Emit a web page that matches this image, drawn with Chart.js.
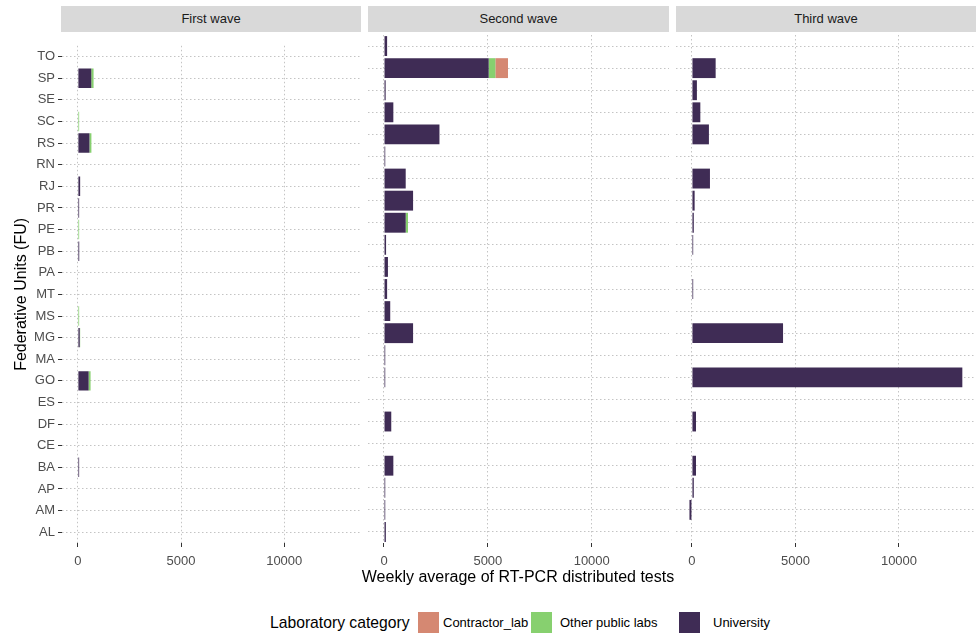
<!DOCTYPE html>
<html>
<head>
<meta charset="utf-8">
<script src="https://cdn.jsdelivr.net/npm/chart.js@4.4.0/dist/chart.umd.min.js"></script>
<style>
  body { margin: 0; width: 977px; height: 634px; background: #fff; position: relative; overflow: hidden;
         font-family: "Liberation Sans", Arial, sans-serif; }
  .strip { position: absolute; top: 6px; height: 26px; background: #D9D9D9; color: #1A1A1A;
           font-size: 13px; line-height: 26px; text-align: center; }
  .panel { position: absolute; top: 35px; height: 538px; }
  .xtitle { position: absolute; left: 318px; width: 400px; top: 568px; text-align: center; font-size: 16px; color: #000; }
  .legend { position: absolute; top: 612px; height: 22px; font-size: 13px; color: #000; }
  .key { position: absolute; top: 612px; width: 21px; height: 21px; }
</style>
</head>
<body>
<div class="strip" style="left:61px;width:300px">First wave</div>
<div class="strip" style="left:368px;width:301px">Second wave</div>
<div class="strip" style="left:676px;width:300px">Third wave</div>

<div class="panel" style="left:0;width:361px"><canvas id="wave1"></canvas></div>
<div class="panel" style="left:368px;width:301px"><canvas id="wave2"></canvas></div>
<div class="panel" style="left:676px;width:300px"><canvas id="wave3"></canvas></div>

<div class="xtitle">Weekly average of RT-PCR distributed tests</div>

<div class="legend" style="left:270px;font-size:15.7px;line-height:22px">Laboratory category</div>
<div class="key" style="left:418px;background:#D58872"></div>
<div class="legend" style="left:443px;line-height:22px">Contractor_lab</div>
<div class="key" style="left:531px;background:#87D06F"></div>
<div class="legend" style="left:560px;line-height:22px">Other public labs</div>
<div class="key" style="left:679px;background:#3F2C55"></div>
<div class="legend" style="left:713px;line-height:22px">University</div>

<script>
// ==================== DATA ====================
const states = ["TO", "SP", "SE", "SC", "RS", "RN", "RJ", "PR", "PE", "PB", "PA", "MT",
                "MS", "MG", "MA", "GO", "ES", "DF", "CE", "BA", "AP", "AM", "AL"];
const xTicks = [0, 5000, 10000];

// First wave
const univ1  = [0, 650, 0, 0, 560, 0, 110, 60, 0, 65, 0, 0, 0, 90, 0, 520, 0, 0, 0, 60, 0, 0, 0];
const other1 = [0, 110, 0, 60, 95, 0, 0, 0, 60, 0, 0, 0, 60, 20, 0, 95, 0, 0, 0, 0, 0, 0, 0];
const contr1 = [0, 0, 0, 0, 0, 0, 0, 0, 0, 0, 0, 0, 0, 0, 0, 0, 0, 0, 0, 0, 0, 0, 0];

// Second wave
const univ2  = [150, 5040, 80, 450, 2670, 60, 1045, 1400, 1045, 100, 190, 150,
                300, 1400, 60, 60, 0, 350, 0, 450, 60, 60, 90];
const other2 = [0, 320, 0, 0, 0, 0, 0, 0, 110, 0, 0, 0, 0, 0, 0, 0, 0, 0, 0, 0, 0, 0, 0];
const contr2 = [0, 610, 0, 0, 0, 0, 0, 0, 0, 0, 0, 0, 0, 0, 0, 0, 0, 0, 0, 0, 0, 0, 0];

// Third wave
const univ3  = [0, 1145, 240, 405, 820, 0, 870, 130, 90, 60, 0, 60,
                0, 4400, 0, 13060, 0, 195, 0, 195, 90, -120, 0];
const other3 = [0, 0, 0, 0, 0, 0, 0, 0, 0, 0, 0, 0, 0, 0, 0, 0, 0, 0, 0, 0, 0, 0, 0];
const contr3 = [0, 0, 0, 0, 0, 0, 0, 0, 0, 0, 0, 0, 0, 0, 0, 0, 0, 0, 0, 0, 0, 0, 0];

const X_MIN = -770, X_MAX = 13720;
const COLORS = { univ: "#3F2C55", other: "#87D06F", contr: "#D58872" };
const FONT = "'Liberation Sans', Arial, sans-serif";

// ==================== CHARTS ====================
function makePanel(id, univ, other, contr, showY) {
  const ctx = document.getElementById(id).getContext("2d");
  const gridStyle = { color: "#C4C4C4", lineWidth: 1 };
  const borderStyle = { display: false, dash: [1.5, 2.5] };

  return new Chart(ctx, {
    type: "bar",
    data: {
      labels: states,
      datasets: [
        { label: "University", data: univ, backgroundColor: COLORS.univ },
        { label: "Other public labs", data: other, backgroundColor: COLORS.other },
        { label: "Contractor_lab", data: contr, backgroundColor: COLORS.contr }
      ]
    },
    options: {
      indexAxis: "y",
      responsive: true,
      maintainAspectRatio: false,
      animation: false,
      layout: { padding: 0 },
      datasets: { bar: { barPercentage: 0.9, categoryPercentage: 1, borderWidth: 0 } },
      plugins: { legend: { display: false }, tooltip: { enabled: false } },
      scales: {
        x: {
          stacked: true,
          min: X_MIN,
          max: X_MAX,
          afterBuildTicks: s => { s.ticks = xTicks.map(v => ({ value: v })); },
          afterFit: s => { s.height = 30; },
          border: borderStyle,
          grid: { ...gridStyle, drawTicks: true, tickLength: 4, tickColor: "#333", tickBorderDash: [], tickWidth: 1 },
          ticks: { color: "#4D4D4D", font: { size: 13, family: FONT }, padding: 7, maxRotation: 0,
                   callback: v => String(v) }
        },
        y: {
          stacked: true,
          afterFit: s => { s.width = showY ? 62 : 0; },
          border: borderStyle,
          grid: { ...gridStyle, offset: false, drawTicks: showY, tickLength: 4, tickColor: "#333", tickBorderDash: [], tickWidth: 1 },
          ticks: { display: showY, color: "#4D4D4D", font: { size: 13, family: FONT }, padding: 3, autoSkip: false },
          title: {
            display: showY,
            text: "Federative Units (FU)",
            color: "#000",
            font: { size: 16, family: FONT },
            padding: { top: 12, bottom: 0 }
          }
        }
      }
    }
  });
}

makePanel("wave1", univ1, other1, contr1, true);
makePanel("wave2", univ2, other2, contr2, false);
makePanel("wave3", univ3, other3, contr3, false);
</script>
</body>
</html>
